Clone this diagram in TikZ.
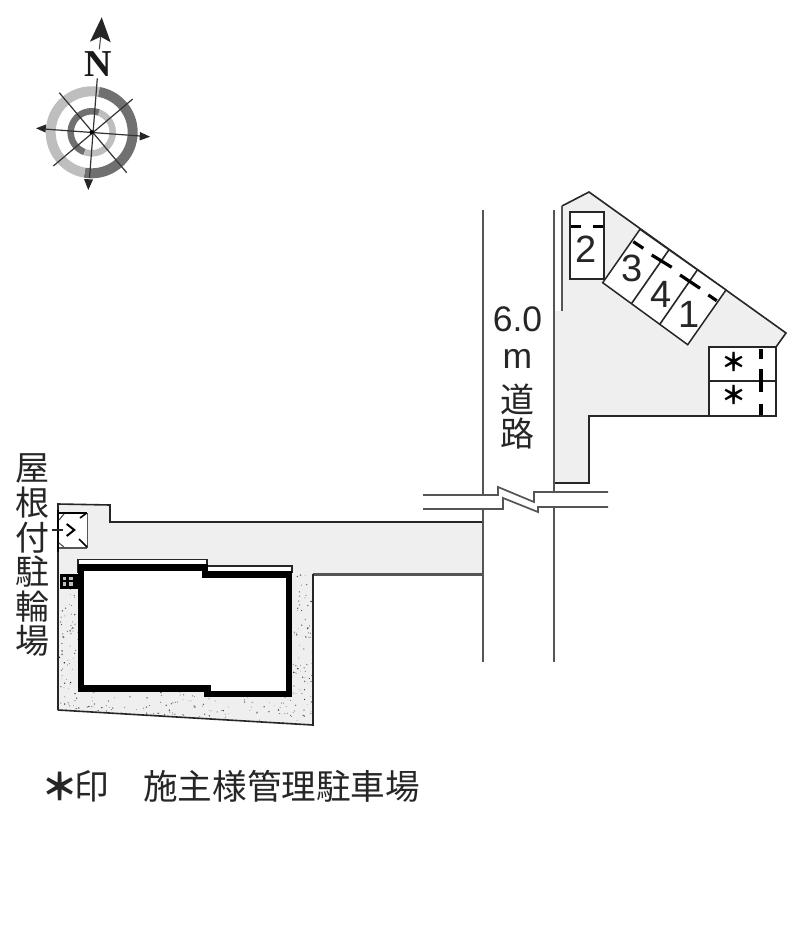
\documentclass[tikz,border=0pt]{standalone}
\usepackage{fontspec}
\setmainfont{Noto Sans CJK JP}
\newfontfamily\latinf{Liberation Sans}
\newfontfamily\serifb{Liberation Serif}[BoldFont={Liberation Serif Bold}]
\definecolor{lotgray}{HTML}{EFEFEF}
\definecolor{linegray}{HTML}{555555}
\definecolor{ringdark}{HTML}{707070}
\definecolor{ringlight}{HTML}{BEBEBE}
\tikzset{
  boundary/.style={draw=black!85, line width=1.6pt, line join=miter},
  roadline/.style={draw=linegray, line width=2.1pt},
  spacebox/.style={draw=black!85, line width=1.5pt, fill=white},
  markdash/.style={draw=black, line width=3.2pt},
  compassline/.style={draw=black!80, line width=1.2pt},
  compasstip/.style={fill=black!85, draw=none},
  bigtext/.style={inner sep=0pt, text=black!85, font=\fontsize{38}{38}\selectfont\latinf},
  roadtext/.style={inner sep=0pt, text=black!85, font=\fontsize{35.5}{35.5}\selectfont\latinf},
  cjktext/.style={inner sep=0pt, text=black!85, font=\fontsize{34}{34}\selectfont},
  legendtext/.style={inner sep=0pt, text=black!85, font=\fontsize{34.6}{34.6}\selectfont},
  startext/.style={inner sep=0pt, text=black, font=\fontsize{25}{25}\selectfont\bfseries},
}
\begin{document}
\begin{tikzpicture}[x=1pt,y=-1pt]
\useasboundingbox (0,0) rectangle (800,941);
\fill[white] (0,0) rectangle (800,941);

% ---- compass
\foreach \r/\w/\a/\b/\c in {41/10/-100/80/ringdark, 41/10/80/260/ringlight, 21/6.5/70/250/ringdark, 21/6.5/-110/70/ringlight}{
  \draw[\c, line width=\w pt] plot[domain=\a:\b, samples=50, smooth] ({91.7+\r*cos(\x)},{132.3-\r*sin(\x)});
}
\draw[compassline] (97.3,78.3) -- (89.5,178);
\draw[compassline] (44,129) -- (140,136);
\draw[compassline] (59.3,92.7) -- (126.7,172.7);
\draw[compassline] (132.7,99) -- (53.3,166);
\fill[black] (91.7,132.3) circle (2.2);
\fill[compasstip] (36,128.3) -- (46,124.5) -- (45.5,132.5) -- cycle;
\fill[compasstip] (150,136.7) -- (140,132) -- (139.5,140.5) -- cycle;
\fill[compasstip] (88.3,190) -- (84,179) -- (93,179.5) -- cycle;
\fill[compasstip] (101.7,17.3) -- (90,41.7) -- (100.7,36.7) -- (110.7,42.3) -- cycle;
\draw[black!70, line width=1.1pt] (100.7,36.7) -- (99.3,49.3);
\node[inner sep=0pt, font=\fontsize{38}{38}\selectfont\serifb\bfseries, text=black!90] (north) at (98,64) {N};

% ---- right lot
\fill[lotgray] (562,206) -- (589,192) -- (786,333) -- (776,347) -- (776,416) -- (589,416) -- (589,483) -- (555,483) -- (555,311) -- (562,311) -- cycle;
\draw[boundary] (562,206) -- (589,192) -- (786,333) -- (776,347);
\draw[boundary] (776,416) -- (589,416) -- (589,483) -- (555,483);
\draw[roadline] (562,311) -- (562,206);

% space 2
\draw[spacebox] (570,212) rectangle (604,279);
\draw[markdash] (571,226.7) -- (581,226.7) (593,226.7) -- (603,226.7);
\node[bigtext] (n2) at (586,249) {2};

% spaces 3 4 1
\draw[spacebox] (640,229.3) -- (726,290) -- (687.7,344.7) -- (602.7,282.7) -- cycle;
\draw[boundary] (669.3,249.3) -- (631.7,303.3) (697.3,270) -- (660,324);
\draw[markdash] (633.3,241.7) -- (643.3,248.3) (651.7,255) -- (671.7,267.3) (680,275) -- (700,288.3) (708.3,295) -- (716.7,300.7);
\node[bigtext] (n3) at (632,268) {3};
\node[bigtext] (n4) at (661,294) {4};
\node[bigtext] (n1) at (689,314) {1};

% star spaces
\draw[spacebox] (709,347) rectangle (776,416);
\draw[boundary] (709,381) -- (776,381);
\draw[markdash] (761,349) -- (761,359) (761,369) -- (761,392) (761,404) -- (761,415);
\node[startext] (s1) at (734,362) {＊};
\node[startext] (s2) at (734,395) {＊};

% ---- left lot
\fill[lotgray] (58,504) -- (110,505) -- (110,522) -- (483,522) -- (483,574) -- (58,574) -- cycle;
\begin{scope}
\clip (58,574) -- (58,710) -- (313,725) -- (313,574) -- cycle;
\fill[lotgray] (58,570) rectangle (313,730);
\pgfmathsetseed{4242}
\foreach \i in {1,...,900}{
  \pgfmathsetmacro{\px}{58+255*rnd}
  \pgfmathsetmacro{\py}{574+151*rnd}
  \pgfmathsetmacro{\pr}{0.35+0.5*rnd}
  \pgfmathsetmacro{\pk}{35+50*rnd}
  \fill[black!\pk] (\px,\py) circle (\pr);
}
\end{scope}
\draw[boundary] (58,710) -- (58,504) -- (110,505) -- (110,522) -- (483,522);
\draw[roadline] (483,574.5) -- (313,574.5);
\draw[boundary] (313,574) -- (313,725) -- (58,710);

% building
\draw[boundary, fill=white] (78,566) -- (78,559.3) -- (207,559.3) -- (207,566) -- (292,566) -- (292,572) -- (78,572) -- cycle;
\draw[draw=black, line width=6.4pt, fill=white, miter limit=10] (81,567.3) -- (205,567.3) -- (205,574.3) -- (288.7,574.3) -- (288.7,694) -- (207.3,694) -- (207.3,688.3) -- (81,688.3) -- cycle;

% bicycle shelter
\fill[white] (58,513) rectangle (87,548);
\draw[draw=linegray, line width=1.3pt] (87.3,513) -- (87.3,548);
\draw[draw=linegray, line width=2.4pt] (58,548) -- (87.3,548);
\draw[draw=black, line width=1.6pt] (58,513) -- (87.3,513);
\draw[draw=black, line width=1.8pt] (58.3,510) -- (58.3,552);
\draw[boundary] (52.3,530) -- (63.3,530);
\draw[draw=black, line width=2pt] (66.7,524) -- (74.3,530) -- (66.7,536);
\draw[draw=black, line width=1.6pt] (80,518) -- (86.7,513) (79,539) -- (87,547);
\draw[draw=black!70, line width=1.1pt] (59,520) -- (64,514) (59,543) -- (64,547);

% small black box
\fill[black] (60,574) rectangle (78,589);
\foreach \qx/\qy in {64.3/578.3, 71/578.3, 64.3/584, 71/584}{
  \fill[black!25] (\qx-1.8,\qy-1.8) rectangle (\qx+1.8,\qy+1.8);
}

% ---- road
\draw[roadline] (483,210) -- (483,495) (483,509) -- (483,662);
\draw[roadline] (554,210) -- (554,492) (554,507) -- (554,662);
\draw[roadline, line width=1.7pt] (423,495) -- (498,495) -- (498,487) -- (534,502) -- (534,492) -- (608,492);
\draw[roadline, line width=1.7pt] (423,509) -- (503,509) -- (503,498) -- (538,512) -- (538,507) -- (608,507);

% ---- texts
\node[roadtext] (w6) at (517.5,319) {6.0};
\node[roadtext] (wm) at (517.5,359) {m};
\node[cjktext] (wd) at (517.5,399) {道};
\node[cjktext] (wr) at (517.5,434) {路};

\node[cjktext] (v1) at (32,468.5) {屋};
\node[cjktext] (v2) at (32,503) {根};
\node[cjktext] (v3) at (32,537.5) {付};
\node[cjktext] (v4) at (32,572) {駐};
\node[cjktext] (v5) at (32,606.5) {輪};
\node[cjktext] (v6) at (32,641) {場};

\node[legendtext, font=\fontsize{37}{37}\selectfont\bfseries] (l1) at (60,786) {＊};
\node[legendtext] (l2) at (92,786) {印};
\node[legendtext, anchor=west] (l3) at (143,786) {施主様管理駐車場};
\end{tikzpicture}
\end{document}
